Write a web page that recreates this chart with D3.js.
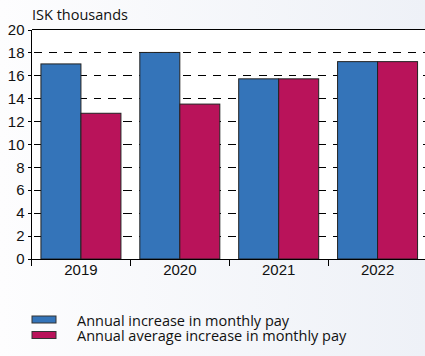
<!DOCTYPE html>
<meta charset="utf-8">
<style>
  body { margin: 0; }
  svg { font-family: "Open Sans", sans-serif; display: block; }
  .grid line { stroke: #000; stroke-dasharray: 8,7; shape-rendering: crispEdges; }
  .axis path, .axis line { stroke: #000; shape-rendering: crispEdges; }
  .axis text { font-size: 15px; fill: #111; }
</style>
<body>
<div id="chart"></div>
<script src="https://d3js.org/d3.v7.min.js"></script>
<script>
  var years = ["2019", "2020", "2021", "2022"];
  var monthlyIncrease = [17.0, 18.0, 15.7, 17.2];
  var averageIncrease = [12.7, 13.5, 15.7, 17.2];
  var seriesNames = ["Annual increase in monthly pay", "Annual average increase in monthly pay"];
  var colors = ["#3474b9", "#b9135a"];
  var yTicks = [0, 2, 4, 6, 8, 10, 12, 14, 16, 18, 20];

  var W = 425, H = 356;
  var m = {top: 29.5, right: -2, bottom: 97, left: 31.5};
  var w = W - m.left - m.right, h = H - m.top - m.bottom;

  var svg = d3.select("#chart").append("svg")
      .attr("width", W).attr("height", H);

  // background gradient
  var grad = svg.append("defs").append("linearGradient").attr("id", "bg");
  grad.append("stop").attr("offset", "0%").attr("stop-color", "#fdfdfe");
  grad.append("stop").attr("offset", "100%").attr("stop-color", "#eef1f7");
  svg.append("rect").attr("width", W).attr("height", H).attr("fill", "url(#bg)");

  var g = svg.append("g").attr("transform", "translate(" + m.left + "," + m.top + ")");

  var x0 = d3.scaleBand().domain(years).range([0, w]);
  var y = d3.scaleLinear().domain([0, 20]).range([h, 0]);

  g.append("rect").attr("width", w).attr("height", h).attr("fill", "#fff");

  // dashed grid
  g.append("g").attr("class", "grid")
    .selectAll("line").data(yTicks.filter(function(d) { return d > 0 && d < 20; }))
    .enter().append("line")
    .attr("x1", 2).attr("x2", w)
    .attr("y1", function(d) { return y(d); }).attr("y2", function(d) { return y(d); });

  // bars
  var bw = 40;
  var data = years.map(function(yr, i) { return {year: yr, vals: [monthlyIncrease[i], averageIncrease[i]]}; });
  var grp = g.selectAll(".yr").data(data).enter().append("g")
    .attr("transform", function(d) { return "translate(" + (x0(d.year) + x0.bandwidth() / 2 - bw) + ",0)"; });
  grp.selectAll("rect").data(function(d) { return d.vals; }).enter().append("rect")
    .attr("x", function(d, i) { return i * bw; })
    .attr("y", function(d) { return y(d); })
    .attr("width", bw)
    .attr("height", function(d) { return h - y(d); })
    .attr("fill", function(d, i) { return colors[i]; })
    .attr("stroke", "#222").attr("stroke-width", 1);

  // top border
  g.append("line").attr("x1", 0).attr("x2", w).attr("y1", 0).attr("y2", 0)
    .attr("stroke", "#000").attr("shape-rendering", "crispEdges");

  // y axis
  var ya = g.append("g").attr("class", "axis")
    .call(d3.axisLeft(y).tickValues(yTicks).tickSize(4).tickPadding(3));
  ya.select(".domain").attr("d", "M0," + (h + 7) + "V0");

  // x axis
  var xa = g.append("g").attr("class", "axis").attr("transform", "translate(0," + h + ")")
    .call(d3.axisBottom(x0).tickSize(0).tickPadding(5));
  xa.select(".domain").attr("d", "M0,0H" + w);
  xa.selectAll(".sep").data(years.slice(1)).enter().append("line")
    .attr("x1", function(d) { return x0(d); }).attr("x2", function(d) { return x0(d); })
    .attr("y1", 0).attr("y2", 7);

  svg.append("text").attr("x", 32).attr("y", 20).attr("font-size", 14.5).attr("fill", "#111")
    .text("ISK thousands");

  // legend
  var lg = svg.selectAll(".lg").data(seriesNames).enter().append("g")
    .attr("transform", function(d, i) { return "translate(32," + (316 + i * 15.5) + ")"; });
  lg.append("rect").attr("width", 24).attr("height", 7)
    .attr("fill", function(d, i) { return colors[i]; })
    .attr("stroke", "#333").attr("stroke-width", 1);
  lg.append("text").attr("x", 45).attr("y", 9.5).attr("font-size", 14.5).attr("fill", "#111")
    .text(function(d) { return d; });
</script>
</body>
